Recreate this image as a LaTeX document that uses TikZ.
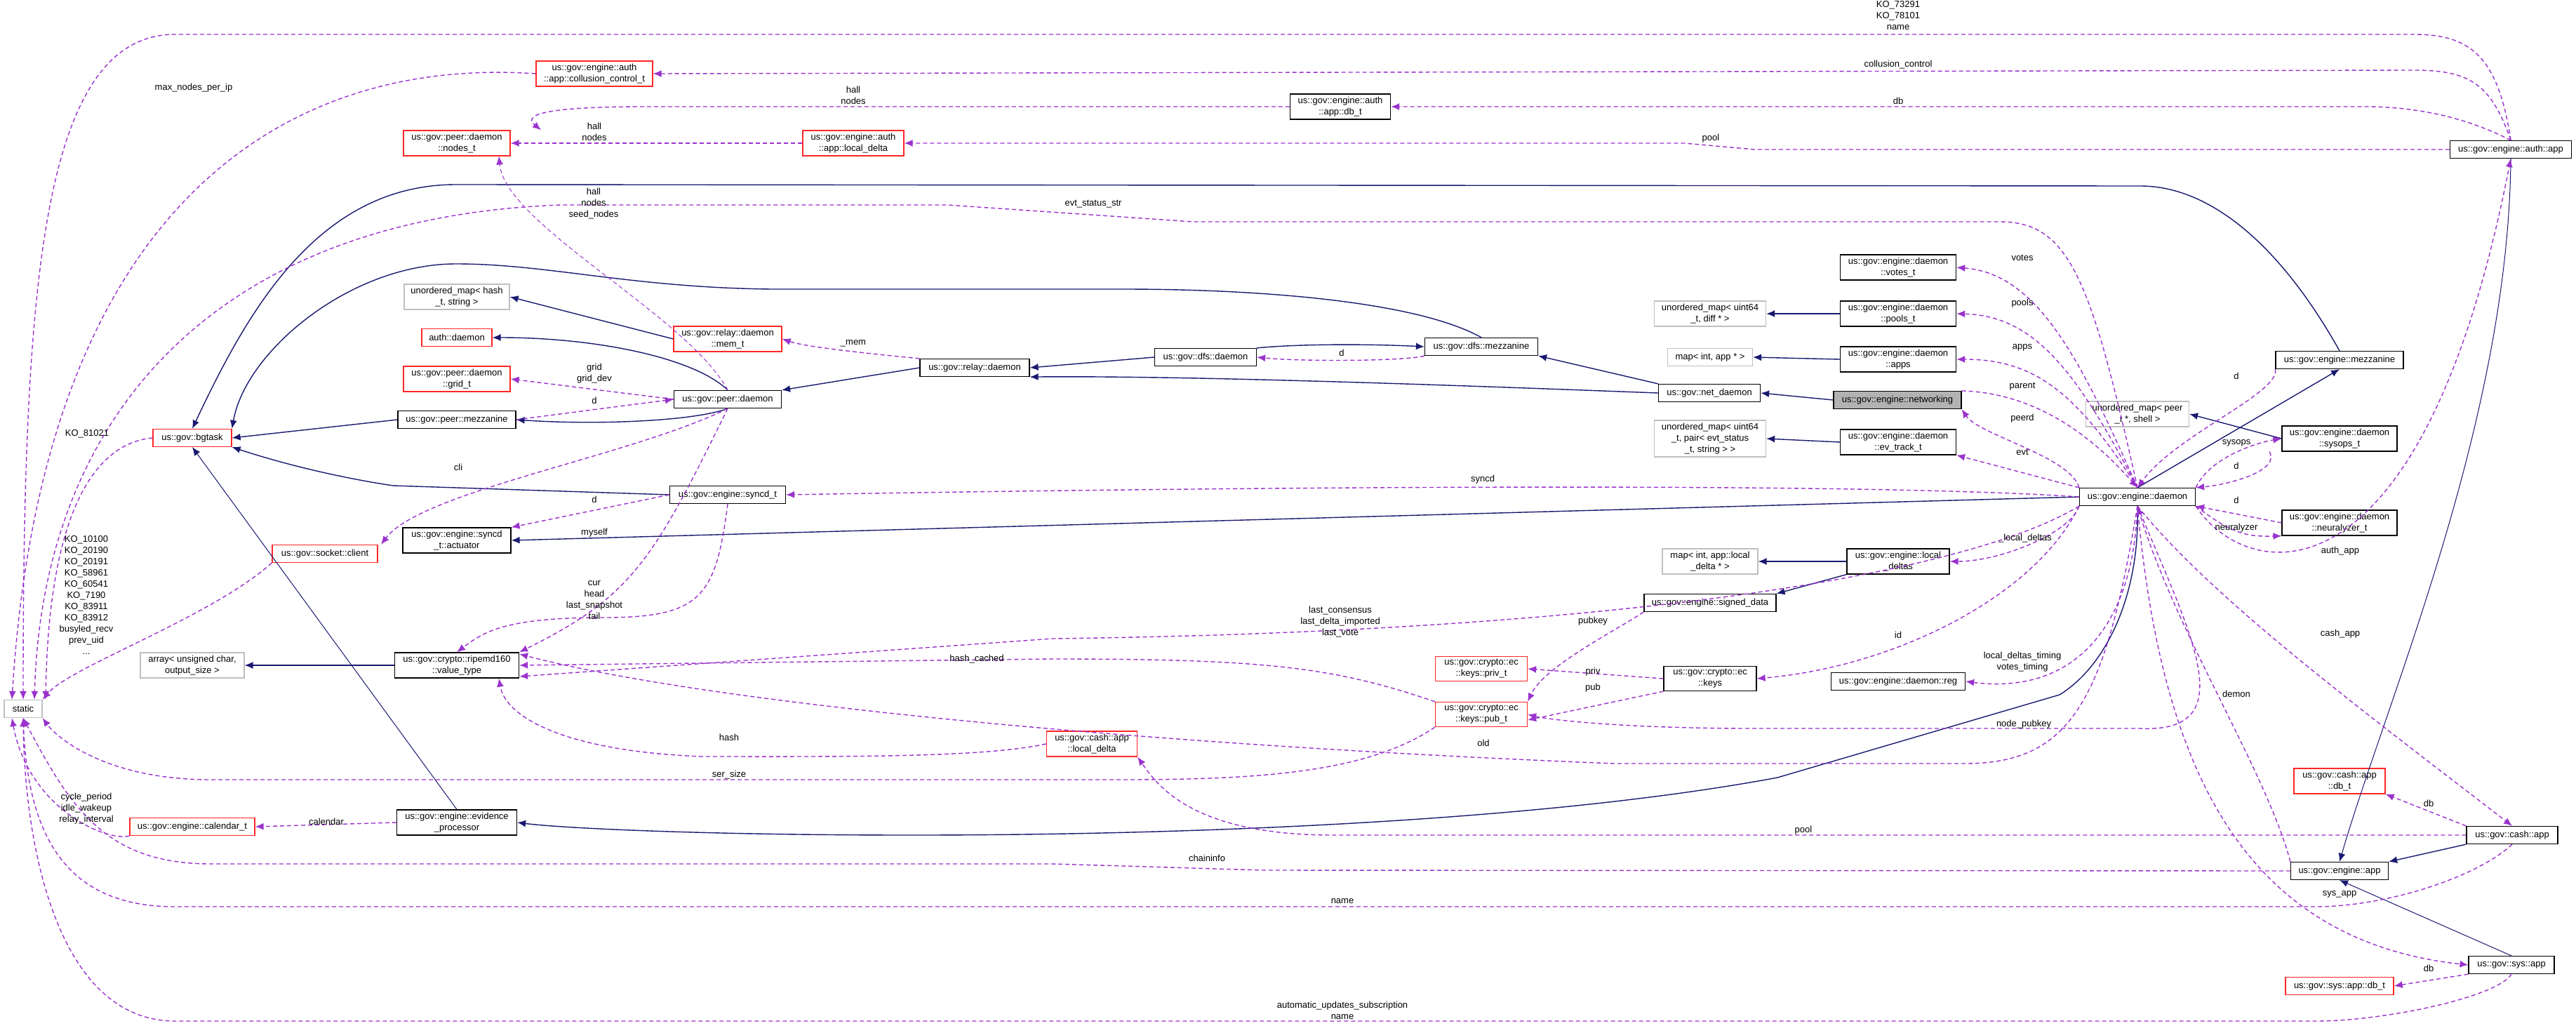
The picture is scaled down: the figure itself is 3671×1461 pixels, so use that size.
\documentclass[tikz,border=0pt]{standalone}
\usepackage{fontspec}
\setmainfont{Liberation Sans}
\usetikzlibrary{arrows.meta}
\definecolor{inh}{HTML}{191970}
\definecolor{usec}{HTML}{9A32CD}
\tikzset{
 x=0.5pt,y=-0.5pt,
 base/.style={draw,fill=white,font=\fontsize{6.5}{8}\selectfont,align=center,inner xsep=2pt,inner ysep=2pt,minimum height=12.5pt,line width=0.6pt},
 cls/.style={base,draw=black},
 red/.style={base,draw=red!85},
 ext/.style={base,draw=black!25},
 cur/.style={base,draw=black,fill=black!30},
 w/.style={minimum width=#1*0.5pt},
 lbl/.style={font=\fontsize{6.5}{8}\selectfont,align=center,inner sep=0pt},
 iedge/.style={draw=inh,line width=0.7pt,-{Latex[length=6pt,width=5pt]}},
 uedge/.style={draw=usec,line width=0.7pt,dash pattern=on 3pt off 2pt,-{Latex[length=6pt,width=5pt]}},
}
\begin{document}
\begin{tikzpicture}
\useasboundingbox (0,0) rectangle (3671,1461);
% nodes
\node[red,w=166] (coll) at (847,105) {us::gov::engine::auth\\::app::collusion\_control\_t};
\node[red,w=152] (nodest) at (651,204) {us::gov::peer::daemon\\::nodes\_t};
\node[red,w=144] (aloc) at (1216,204) {us::gov::engine::auth\\::app::local\_delta};
\node[cls,w=143] (dbt) at (1910,152) {us::gov::engine::auth\\::app::db\_t};
\node[cls,w=173] (aapp) at (3578,213) {us::gov::engine::auth::app};
\node[ext,w=150] (umhash) at (651,423) {unordered\_map< hash\\\_t, string >};
\node[red,w=100] (authd) at (651,481) {auth::daemon};
\node[red,w=154] (memt) at (1037,483) {us::gov::relay::daemon\\::mem\_t};
\node[red,w=152] (gridt) at (651,540) {us::gov::peer::daemon\\::grid\_t};
\node[cls,w=153] (pdaemon) at (1037,569) {us::gov::peer::daemon};
\node[cls,w=168] (pmezz) at (651,598) {us::gov::peer::mezzanine};
\node[red,w=112] (bgtask) at (274,624) {us::gov::bgtask};
\node[cls,w=165] (synchd) at (1037,705) {us::gov::engine::syncd\_t};
\node[cls,w=154] (actuator) at (651,770) {us::gov::engine::syncd\\\_t::actuator};
\node[red,w=150] (socket) at (463,789) {us::gov::socket::client};
\node[ext,w=148] (arr) at (274,948) {array< unsigned char,\\output\_size >};
\node[cls,w=177] (value) at (651,948) {us::gov::crypto::ripemd160\\::value\_type};
\node[ext,w=54] (static) at (33,1010) {static};
\node[red,w=178] (cal) at (274,1178) {us::gov::engine::calendar\_t};
\node[cls,w=171] (evid) at (651,1172) {us::gov::engine::evidence\\\_processor};
\node[cls,w=161] (dfsmezz) at (2111,494) {us::gov::dfs::mezzanine};
\node[cls,w=145] (dfsd) at (1718,509) {us::gov::dfs::daemon};
\node[cls,w=156] (rdaemon) at (1389,524) {us::gov::relay::daemon};
\node[ext,w=159] (um64) at (2437,447) {unordered\_map< uint64\\\_t, diff * >};
\node[ext,w=121] (mapint) at (2437,509) {map< int, app * >};
\node[cls,w=165] (votes) at (2705,381) {us::gov::engine::daemon\\::votes\_t};
\node[cls,w=165] (pools) at (2705,447) {us::gov::engine::daemon\\::pools\_t};
\node[cls,w=165] (apps) at (2705,512) {us::gov::engine::daemon\\::apps};
\node[cls,w=182] (emezz) at (3334,513) {us::gov::engine::mezzanine};
\node[cls,w=145] (netd) at (2436,560) {us::gov::net\_daemon};
\node[cur,w=182] (networking) at (2704,570) {us::gov::engine::networking};
\node[ext,w=147] (umpeer) at (3046,590) {unordered\_map< peer\\\_t *, shell >};
\node[cls,w=164] (sysops) at (3334,625) {us::gov::engine::daemon\\::sysops\_t};
\node[cls,w=165] (evtrack) at (2705,630) {us::gov::engine::daemon\\::ev\_track\_t};
\node[ext,w=159] (umpair) at (2437,625) {unordered\_map< uint64\\\_t, pair< evt\_status\\\_t, string > >};
\node[cls,w=165] (edaemon) at (3046,708) {us::gov::engine::daemon};
\node[cls,w=164] (neur) at (3334,745) {us::gov::engine::daemon\\::neuralyzer\_t};
\node[cls,w=146] (ldeltas) at (2705,800) {us::gov::engine::local\\\_deltas};
\node[ext,w=136] (maplocal) at (2437,800) {map< int, app::local\\\_delta * >};
\node[cls,w=188] (sdata) at (2437,859) {us::gov::engine::signed\_data};
\node[cls,w=132] (keys) at (2437,967) {us::gov::crypto::ec\\::keys};
\node[cls,w=191] (reg) at (2705,971) {us::gov::engine::daemon::reg};
\node[red,w=131] (privt) at (2111,953) {us::gov::crypto::ec\\::keys::priv\_t};
\node[red,w=131] (pubt) at (2111,1018) {us::gov::crypto::ec\\::keys::pub\_t};
\node[red,w=129] (cloc) at (1556,1060) {us::gov::cash::app\\::local\_delta};
\node[red,w=130] (cdb) at (3334,1113) {us::gov::cash::app\\::db\_t};
\node[cls,w=130] (capp) at (3580,1190) {us::gov::cash::app};
\node[cls,w=139] (eapp) at (3334,1241) {us::gov::engine::app};
\node[cls,w=122] (sysapp) at (3579,1375) {us::gov::sys::app};
\node[red,w=154] (sdb) at (3334,1405) {us::gov::sys::app::db\_t};

% inheritance
\draw[iedge] (pmezz.west) -- (bgtask.east);
\draw[iedge] (pdaemon.south) .. controls (990,600) and (850,606) .. (pmezz.east);
\draw[iedge] (pdaemon.north) .. controls (990,510) and (850,481) .. (authd.east);
\draw[iedge] (memt.west) -- (umhash.east);
\draw[iedge] (rdaemon.west) -- (pdaemon.north east);
\draw[iedge] (dfsd.west) -- (rdaemon.east);
\draw[iedge] (netd.west) .. controls (2100,550) and (1700,535) .. (rdaemon.south east);
\draw[iedge] (dfsd.north east) .. controls (1850,490) and (1950,490) .. (dfsmezz.west);
\draw[iedge] (dfsmezz.north) .. controls (2020,430) and (1800,412) .. (1600,412) -- (1100,412) .. controls (900,410) and (780,376) .. (650,376) .. controls (500,376) and (350,500) .. (bgtask.north east);
\draw[iedge] (emezz.north) .. controls (3250,350) and (3150,265) .. (3050,265) -- (650,263) .. controls (450,263) and (350,450) .. (bgtask.north);
\draw[iedge] (netd.north west) -- (dfsmezz.south east);
\draw[iedge] (networking.west) -- (netd.east);
\draw[iedge] (pools.west) -- (um64.east);
\draw[iedge] (apps.west) -- (mapint.east);
\draw[iedge] (evtrack.west) -- (umpair.east);
\draw[iedge] (ldeltas.west) -- (maplocal.east);
\draw[iedge] (ldeltas.south west) -- (sdata.north east);
\draw[iedge] (edaemon.north) -- (emezz.south);
\draw[iedge] (sysops.west) -- (umpeer.east);
\draw[iedge] (synchd.west) -- (560,692) .. controls (480,680) and (400,660) .. (bgtask.south east);
\draw[iedge] (edaemon.west) -- (actuator.east);
\draw[iedge] (value.west) -- (arr.east);
\draw[iedge,line width=0.5pt] (evid.north) -- (bgtask.south);
\draw[iedge] (edaemon.south) .. controls (3050,850) and (3000,950) .. (2935,990) -- (2533,1108) .. controls (2200,1170) and (1700,1190) .. (1300,1190) .. controls (1000,1190) and (800,1180) .. (evid.east);
\draw[iedge] (capp.south west) -- (eapp.north east);
\draw[iedge,line width=0.5pt] (sysapp.north) -- (eapp.south);
\draw[iedge,line width=0.5pt] (aapp.south) .. controls (3575,600) and (3400,1000) .. (eapp.north);

% usage
\draw[uedge] (aapp.north) .. controls (3560,80) and (3520,49) .. (3440,49) -- (250,49) .. controls (60,49) and (33,400) .. (static.north);
\draw[uedge] (aapp.north) .. controls (3550,120) and (3520,100) .. (3440,100) -- (coll.east);
\draw[uedge] (coll.west) .. controls (400,80) and (60,300) .. ([xshift=-8]static.north);
\draw[uedge] (aapp.north) .. controls (3520,170) and (3450,152) .. (3370,152) -- (dbt.east);
\draw[uedge] (dbt.west) -- (920,152) .. controls (800,152) and (740,160) .. ([xshift=60]nodest.north);
\draw[uedge] (aapp.west) -- (2500,213) -- (2400,204) -- (aloc.east);
\draw[uedge] (aloc.west) -- (nodest.east);
\draw[uedge] (edaemon.north) .. controls (2980,400) and (2950,316) .. (2850,316) -- (1700,316) -- (1350,292) -- (800,292) .. controls (300,310) and (60,600) .. ([xshift=8]static.north);
\draw[uedge,line width=0.5pt] (pdaemon.north) .. controls (980,450) and (720,320) .. ([xshift=30]nodest.south);
\draw[uedge] (bgtask.west) .. controls (150,630) and (70,700) .. ([xshift=16]static.north);
\draw[uedge] (pdaemon.west) -- (gridt.east);
\draw[uedge] (pmezz.east) -- (pdaemon.west);
\draw[uedge] (pdaemon.south) .. controls (900,650) and (600,700) .. ([xshift=40]socket.north);
\draw[uedge] (socket.south west) .. controls (300,880) and (100,950) .. (static.north east);
\draw[uedge] (synchd.west) -- (actuator.north east);
\draw[uedge] (pdaemon.south) .. controls (930,800) and (900,850) .. (value.north east);
\draw[uedge] (synchd.south) .. controls (1020,850) and (1000,880) .. (860,880) .. controls (720,880) and (690,900) .. (value.north);
\draw[uedge] (edaemon.west) .. controls (2700,690) and (2000,690) .. (synchd.east);
\draw[uedge] (edaemon.south west) .. controls (2800,820) and (2300,900) .. (1500,910) -- ([yshift=-8]value.east);
\draw[uedge] (pubt.north west) .. controls (1900,950) and (1800,939) .. (1500,939) -- (value.east);
\draw[uedge] (cloc.west) .. controls (1400,1080) and (1200,1078) .. (1000,1078) .. controls (800,1070) and (720,1020) .. ([xshift=30]value.south);
\draw[uedge] (edaemon.south) .. controls (3000,1000) and (2950,1088) .. (2800,1088) -- (2300,1088) .. controls (1600,1060) and (1000,1000) .. ([yshift=8]value.east);
\draw[uedge] (pubt.south west) .. controls (1950,1100) and (1800,1111) .. (1600,1111) -- (300,1111) .. controls (150,1111) and (80,1050) .. (static.south east);
\draw[uedge] (edaemon.south) .. controls (3120,900) and (3200,1045) .. (3050,1038) -- (2500,1038) .. controls (2300,1038) and (2200,1024) .. (pubt.east);
\draw[uedge] (sdata.south west) .. controls (2300,900) and (2200,950) .. (pubt.north east);
\draw[uedge] (keys.west) -- (privt.east);
\draw[uedge] (keys.south west) -- ([yshift=-4]pubt.east);
\draw[uedge] (edaemon.south west) .. controls (2900,850) and (2700,950) .. (keys.east);
\draw[uedge] (edaemon.south) .. controls (3040,900) and (2950,990) .. (reg.east);
\draw[uedge] (edaemon.south west) .. controls (2950,760) and (2850,800) .. (ldeltas.east);
\draw[uedge] (edaemon.north) .. controls (2960,500) and (2900,390) .. (votes.east);
\draw[uedge] (edaemon.north) .. controls (2960,530) and (2900,450) .. (pools.east);
\draw[uedge] (edaemon.north) .. controls (2960,560) and (2900,512) .. (apps.east);
\draw[uedge] (networking.north east) .. controls (2900,560) and (2980,620) .. (edaemon.north);
\draw[uedge] (edaemon.north west) .. controls (2950,650) and (2820,620) .. (networking.south east);
\draw[uedge] (edaemon.north west) -- (evtrack.south east);
\draw[uedge] (emezz.south west) .. controls (3250,560) and (3100,620) .. (edaemon.north);
\draw[uedge] (edaemon.north east) .. controls (3150,650) and (3220,630) .. (sysops.west);
\draw[uedge] ([xshift=-50]sysops.south) .. controls (3250,670) and (3180,690) .. (edaemon.north east);
\draw[uedge] (neur.west) -- (edaemon.south east);
\draw[uedge] (edaemon.south east) .. controls (3180,760) and (3200,765) .. (neur.south west);
\draw[uedge] (edaemon.south east) .. controls (3200,830) and (3450,880) .. (aapp.south);
\draw[uedge] (edaemon.south) .. controls (3150,850) and (3350,1000) .. (capp.north);
\draw[uedge] (eapp.north west) .. controls (3230,1100) and (3100,900) .. (edaemon.south);
\draw[uedge] (edaemon.south) .. controls (3080,1100) and (3200,1340) .. (sysapp.west);
\draw[uedge] (capp.north west) -- (cdb.south east);
\draw[uedge] (capp.west) -- (1900,1190) .. controls (1700,1190) and (1650,1120) .. (cloc.south east);
\draw[uedge] (eapp.west) -- (1800,1240) -- (1500,1231) -- (300,1231) .. controls (150,1231) and (100,1150) .. (static.south);
\draw[uedge] (capp.south) .. controls (3530,1250) and (3400,1292) .. (3300,1292) -- (250,1292) .. controls (100,1292) and (40,1200) .. (static.south);
\draw[uedge] (sysapp.south west) -- (sdb.east);
\draw[uedge] (sysapp.south) .. controls (3560,1420) and (3400,1455) .. (3300,1455) -- (250,1455) .. controls (80,1455) and (35,1200) .. (static.south);
\draw[uedge] (cal.south west) .. controls (150,1200) and (40,1150) .. ([xshift=-8]static.south);
\draw[uedge] (evid.west) -- (cal.east);
\draw[uedge] (dfsmezz.south west) .. controls (2000,515) and (1850,515) .. (dfsd.east);
\draw[uedge] (rdaemon.north west) .. controls (1250,505) and (1150,495) .. (memt.east);

% labels
\node[lbl] (l1) at (2705,22) {KO\_73291\\KO\_78101\\name};
\node[lbl] (l2) at (2705,92) {collusion\_control};
\node[lbl] (l3) at (276,125) {max\_nodes\_per\_ip};
\node[lbl] (l4) at (2705,144) {db};
\node[lbl] (l5) at (1216,136) {hall\\nodes};
\node[lbl] (l6) at (2438,197) {pool};
\node[lbl] (l7) at (847,188) {hall\\nodes};
\node[lbl] (l8) at (1558,291) {evt\_status\_str};
\node[lbl] (l9) at (846,290) {hall\\nodes\\seed\_nodes};
\node[lbl] (l10) at (124,618) {KO\_81021};
\node[lbl] (l11) at (847,532) {grid\\grid\_dev};
\node[lbl] (l12) at (847,571) {d};
\node[lbl] (l13) at (653,666) {cli};
\node[lbl] (l14) at (123,848) {KO\_10100\\KO\_20190\\KO\_20191\\KO\_58961\\KO\_60541\\KO\_7190\\KO\_83911\\KO\_83912\\busyled\_recv\\prev\_uid\\...};
\node[lbl] (l15) at (847,712) {d};
\node[lbl] (l16) at (847,759) {myself};
\node[lbl] (l17) at (847,855) {cur\\head\\last\_snapshot\\tail};
\node[lbl] (l18) at (2113,683) {syncd};
\node[lbl] (l19) at (1910,886) {last\_consensus\\last\_delta\_imported\\last\_vote};
\node[lbl] (l20) at (1392,939) {hash\_cached};
\node[lbl] (l21) at (1039,1051) {hash};
\node[lbl] (l22) at (2114,1059) {old};
\node[lbl] (l23) at (1039,1104) {ser\_size};
\node[lbl] (l24) at (2884,1032) {node\_pubkey};
\node[lbl] (l25) at (2270,885) {pubkey};
\node[lbl] (l26) at (2270,957) {priv};
\node[lbl] (l27) at (2270,980) {pub};
\node[lbl] (l28) at (2705,905) {id};
\node[lbl] (l29) at (2882,943) {local\_deltas\_timing\\votes\_timing};
\node[lbl] (l30) at (2886,767) {\_local\_deltas};
\node[lbl] (l31) at (2882,367) {votes};
\node[lbl] (l32) at (2882,432) {pools};
\node[lbl] (l33) at (2882,495) {apps};
\node[lbl] (l34) at (2882,551) {parent};
\node[lbl] (l35) at (2882,596) {peerd};
\node[lbl] (l36) at (2882,644) {evt};
\node[lbl] (l37) at (3187,536) {d};
\node[lbl] (l38) at (3187,631) {sysops};
\node[lbl] (l39) at (3187,664) {d};
\node[lbl] (l40) at (3187,713) {d};
\node[lbl] (l41) at (3187,752) {neuralyzer};
\node[lbl] (l42) at (3335,785) {auth\_app};
\node[lbl] (l43) at (3335,903) {cash\_app};
\node[lbl] (l44) at (3187,989) {demon};
\node[lbl] (l45) at (3334,1274) {sys\_app};
\node[lbl] (l46) at (3461,1145) {db};
\node[lbl] (l47) at (2570,1183) {pool};
\node[lbl] (l48) at (1720,1223) {chaininfo};
\node[lbl] (l49) at (1913,1284) {name};
\node[lbl] (l50) at (3461,1380) {db};
\node[lbl] (l51) at (1913,1440) {automatic\_updates\_subscription\\name};
\node[lbl] (l52) at (123,1152) {cycle\_period\\idle\_wakeup\\relay\_interval};
\node[lbl] (l53) at (465,1171) {calendar};
\node[lbl] (l54) at (1912,503) {d};
\node[lbl] (l55) at (1216,489) {\_mem};
\end{tikzpicture}
\end{document}
